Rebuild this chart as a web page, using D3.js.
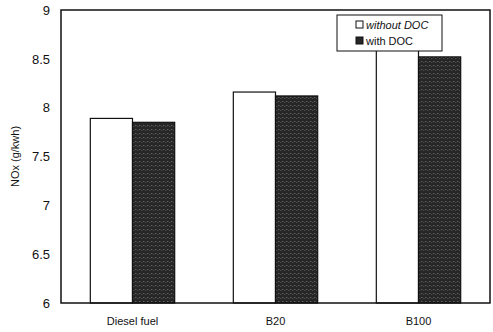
<!DOCTYPE html>
<html>
<head>
<meta charset="utf-8">
<script src="https://cdn.jsdelivr.net/npm/d3@7"></script>
<style>
  body { margin: 0; background: #fff; }
  text { font-family: "Liberation Sans", Arial, sans-serif; fill: #111; }
</style>
</head>
<body>
<div id="chart"></div>
<script>
// data
const fuels = ["Diesel fuel", "B20", "B100"];
const withoutDoc = [7.89, 8.16, 8.62];
const withDoc = [7.85, 8.12, 8.52];
const seriesNames = ["without DOC", "with DOC"];
const yTicks = [6, 6.5, 7, 7.5, 8, 8.5, 9];

const width = 493, height = 332;
const margin = { top: 10, right: 3, bottom: 29, left: 61 };

const svg = d3.select("#chart").append("svg")
    .attr("width", width)
    .attr("height", height);

// speckled dark fill for the "with DOC" bars
const defs = svg.append("defs");
const pat = defs.append("pattern")
    .attr("id", "speckle")
    .attr("patternUnits", "userSpaceOnUse")
    .attr("width", 4).attr("height", 4);
pat.append("rect").attr("width", 4).attr("height", 4).attr("fill", "#262626");
pat.append("rect").attr("x", 1).attr("y", 1).attr("width", 1).attr("height", 1).attr("fill", "#7a7a7a");
pat.append("rect").attr("x", 3).attr("y", 2).attr("width", 1).attr("height", 1).attr("fill", "#5a5a5a");

const x = d3.scaleBand()
    .domain(fuels)
    .range([margin.left, width - margin.right])
    .paddingInner(0.41)
    .paddingOuter(0.205);

const x1 = d3.scaleBand()
    .domain(seriesNames)
    .range([0, x.bandwidth()]);

const y = d3.scaleLinear()
    .domain([6, 9])
    .range([height - margin.bottom, margin.top]);

const rows = fuels.map((f, i) => ({ fuel: f, values: [withoutDoc[i], withDoc[i]] }));

const groups = svg.append("g").selectAll("g")
    .data(rows)
    .join("g")
    .attr("transform", d => `translate(${x(d.fuel)},0)`);

groups.selectAll("rect")
    .data(d => d.values.map((v, k) => ({ key: seriesNames[k], value: v })))
    .join("rect")
    .attr("x", d => x1(d.key))
    .attr("y", d => y(d.value))
    .attr("width", x1.bandwidth())
    .attr("height", d => y(6) - y(d.value))
    .attr("fill", d => d.key === "with DOC" ? "url(#speckle)" : "#fff")
    .attr("stroke", "#111")
    .attr("stroke-width", 1.2);

// y axis, labels only
const yAxis = svg.append("g")
    .attr("transform", `translate(${margin.left - 11},0)`)
    .call(d3.axisLeft(y).tickValues(yTicks).tickSize(0).tickPadding(0).tickFormat(d3.format("")));
yAxis.select(".domain").remove();
yAxis.selectAll("text").style("font-size", "13px");

// x axis labels
const xAxis = svg.append("g")
    .attr("transform", `translate(0,${height - margin.bottom})`)
    .call(d3.axisBottom(x).tickSize(0).tickPadding(14));
xAxis.select(".domain").remove();
xAxis.selectAll("text").style("font-size", "11px");

// plot frame
svg.append("rect")
    .attr("x", margin.left)
    .attr("y", margin.top)
    .attr("width", width - margin.left - margin.right)
    .attr("height", height - margin.top - margin.bottom)
    .attr("fill", "none")
    .attr("stroke", "#111")
    .attr("stroke-width", 1.5);

// y label
svg.append("text")
    .attr("transform", `translate(19,${(margin.top + height - margin.bottom) / 2}) rotate(-90)`)
    .attr("text-anchor", "middle")
    .style("font-size", "11px")
    .text("NOx (g/kwh)");

// legend
const legend = svg.append("g").attr("transform", "translate(337,15)");
legend.append("rect")
    .attr("width", 105).attr("height", 36)
    .attr("fill", "#fff")
    .attr("stroke", "#111")
    .attr("stroke-width", 1);

seriesNames.forEach((name, i) => {
    const row = legend.append("g").attr("transform", `translate(19,${6 + i * 16})`);
    row.append("rect")
        .attr("width", 7).attr("height", 7)
        .attr("fill", i === 1 ? "#262626" : "#fff")
        .attr("stroke", "#111")
        .attr("stroke-width", 1);
    row.append("text")
        .attr("x", 10).attr("y", 7.5)
        .style("font-size", "11px")
        .style("font-style", i === 0 ? "italic" : "normal")
        .text(name);
});
</script>
</body>
</html>
